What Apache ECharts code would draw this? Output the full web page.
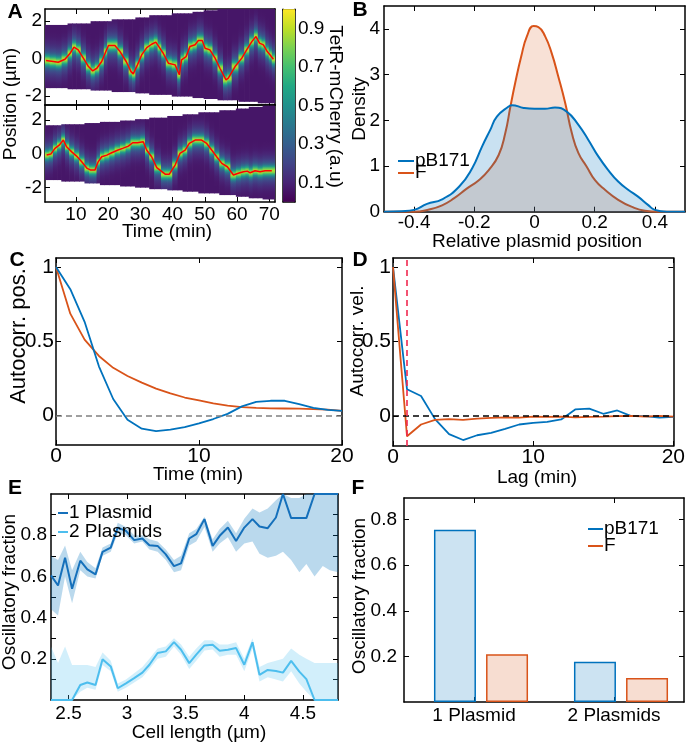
<!DOCTYPE html>
<html><head><meta charset="utf-8">
<script src="https://cdn.jsdelivr.net/npm/echarts@6/dist/echarts.min.js"></script>
<style>html,body{margin:0;padding:0;background:#fff}#c{width:688px;height:744px}</style>
</head><body><div id="c"></div>
<script>
// ---------------- DATA ----------------
// Panel A: kymograph traces (time in min, position in µm)
const kymoTopTime = [0.7,3.0,4.5,6.6,8.2,9.4,10.7,12.3,13.9,15.2,16.5,18.0,19.3,20.1,22.1,23.7,25.6,27.1,27.8,29.1,30.4,32.0,33.5,34.8,35.9,37.1,38.7,40.8,42.1,42.8,44.2,45.4,47.0,48.0,49.2,50.1,51.6,53.2,54.7,56.6,57.3,59.4,61.5,63.0,64.6,65.9,67.0,68.2,69.4,70.3,71.3];
const kymoTopPos  = [-0.10,-0.15,-0.19,-0.03,0.29,0.62,0.47,0.03,-0.42,-0.65,-0.51,-0.15,0.38,0.70,0.70,0.38,-0.15,-0.69,-0.81,-0.33,0.20,0.59,0.77,0.88,0.60,0.29,-0.24,-0.33,-0.86,-0.06,0.11,0.65,0.74,0.97,0.97,0.56,0.47,0.03,-0.51,-1.13,-1.04,-0.42,0.03,0.47,0.91,1.18,0.83,0.74,0.38,0.20,-0.03];
const kymoBotTime = [0.9,2.2,3.5,4.8,6.1,7.1,8.7,10.2,11.8,13.5,14.6,15.9,16.9,18.0,19.6,21.1,22.9,24.5,26.3,27.6,29.1,30.9,32.0,33.5,35.1,37.7,39.0,40.8,42.3,43.9,45.2,47.0,49.0,50.6,52.2,53.7,55.3,57.0,58.9,60.4,62.0,63.2,64.1,65.6,67.2,68.7,70.8];
const kymoBotPos  = [-0.07,-0.01,0.33,0.52,0.82,0.42,0.12,-0.13,-0.47,-0.86,-0.96,-0.96,-0.47,-0.17,-0.07,0.07,0.22,0.33,0.46,0.66,0.66,0.72,0.22,-0.17,-0.81,-1.20,-1.20,-0.66,0.03,0.22,0.62,0.82,0.82,0.62,0.22,-0.17,-0.56,-0.76,-1.25,-1.15,-1.06,-1.02,-1.12,-1.00,-1.06,-1.00,-1.00];
// cell outline (step changes) for each kymograph
const topCellT     = [0.4,8,14,22,28,33,40,46,50,54,60,66];
const topCellUpper = [1.80,1.88,2.00,2.10,2.20,2.32,2.42,2.50,2.58,2.70,2.80,2.90];
const topCellLower = [-1.57,-1.63,-1.70,-1.78,-1.85,-1.93,-2.02,-2.10,-2.15,-2.22,-2.30,-2.38];
const botCellT     = [0.4,6,12,17,23,28,33,38,43,48,54,59,64,68];
const botCellUpper = [1.70,1.76,1.83,1.90,1.98,2.06,2.15,2.25,2.35,2.47,2.59,2.69,2.79,2.86];
const botCellLower = [-1.55,-1.64,-1.75,-1.85,-1.93,-2.00,-2.09,-2.16,-2.24,-2.34,-2.44,-2.54,-2.63,-2.70];
const colorbarRange = [0, 1];
const colorbarLabels = [0.1,0.3,0.5,0.7,0.9];

// Panel B: density of relative plasmid position
const bPbX = [-0.50,-0.44,-0.40,-0.357,-0.307,-0.25,-0.207,-0.174,-0.147,-0.125,-0.086,-0.075,-0.036,0,0.035,0.068,0.107,0.146,0.179,0.212,0.245,0.278,0.311,0.344,0.377,0.40,0.44,0.50];
const bPbY = [0,0.01,0.04,0.17,0.27,0.55,0.95,1.43,1.79,2.08,2.30,2.33,2.27,2.25,2.25,2.28,2.19,1.90,1.57,1.21,0.91,0.66,0.48,0.33,0.15,0.04,0,0];
const bFX  = [-0.50,-0.40,-0.35,-0.307,-0.268,-0.224,-0.185,-0.152,-0.119,-0.097,-0.080,-0.064,-0.044,-0.025,-0.003,0.013,0.035,0.057,0.079,0.102,0.124,0.146,0.173,0.201,0.234,0.278,0.322,0.367,0.41,0.50];
const bFY  = [0,0,0.05,0.14,0.29,0.51,0.69,0.91,1.24,1.72,2.30,2.82,3.40,3.84,4.06,4.04,3.84,3.47,2.96,2.38,1.72,1.28,0.99,0.69,0.48,0.26,0.11,0.02,0,0];

// Panel C: position autocorrelation
const cTime = [0,1,2,3,4,5,6,7,8,9,10,11,12,13,14,15,16,17,18,19,20];
const cPb = [1.0,0.85,0.63,0.33,0.11,-0.03,-0.09,-0.107,-0.097,-0.08,-0.055,-0.025,0.01,0.06,0.09,0.098,0.098,0.075,0.05,0.037,0.03];
const cF  = [1.0,0.685,0.51,0.40,0.32,0.265,0.22,0.18,0.148,0.12,0.10,0.08,0.065,0.055,0.05,0.047,0.046,0.045,0.042,0.038,0.03];

// Panel D: velocity autocorrelation
const dLag = [0,1,2,3,4,5,6,7,8,9,10,11,12,13,14,15,16,17,18,19,20];
const dPb = [1.0,0.18,0.135,-0.02,-0.12,-0.16,-0.128,-0.112,-0.085,-0.056,-0.045,-0.038,-0.022,0.045,0.05,0.016,0.038,0.0,0.0,-0.01,-0.005];
const dF  = [1.0,-0.135,-0.056,-0.025,-0.02,-0.025,-0.017,-0.012,-0.008,-0.01,-0.003,-0.005,-0.003,-0.008,-0.005,-0.003,0,0.002,-0.003,0.002,-0.003];
const dMarkLag = 1;

// Panel E: oscillatory fraction vs cell length
const eLen = [2.35,2.41,2.47,2.53,2.60,2.66,2.73,2.79,2.86,2.92,2.99,3.06,3.13,3.19,3.26,3.33,3.40,3.46,3.53,3.59,3.66,3.73,3.79,3.86,3.93,4.00,4.07,4.13,4.20,4.27,4.33,4.40,4.47,4.53,4.60,4.67,4.73,4.80];
const e1 = [0.605,0.556,0.691,0.540,0.676,0.634,0.610,0.719,0.740,0.837,0.821,0.776,0.784,0.751,0.748,0.707,0.650,0.663,0.784,0.805,0.878,0.748,0.797,0.837,0.772,0.837,0.878,0.842,0.834,0.886,1.0,0.883,0.883,0.883,1.0,1.0,1.0,1.0];
const e1Lo = [0.44,0.41,0.60,0.47,0.63,0.60,0.59,0.70,0.72,0.81,0.80,0.76,0.77,0.73,0.72,0.68,0.62,0.63,0.75,0.77,0.84,0.72,0.76,0.79,0.72,0.76,0.77,0.71,0.69,0.70,0.72,0.68,0.62,0.66,0.60,0.65,0.63,0.62];
const e1Hi = [0.70,0.68,0.75,0.63,0.72,0.67,0.64,0.74,0.76,0.86,0.84,0.80,0.80,0.78,0.77,0.73,0.68,0.70,0.81,0.83,0.89,0.78,0.83,0.87,0.81,0.88,0.93,0.91,0.93,0.97,1.0,0.98,0.98,1.0,1.0,1.0,1.0,1.0];
const e2 = [0,0,0,0,0.073,0.085,0.073,0.198,0.163,0.057,0.081,0.106,0.133,0.171,0.228,0.236,0.281,0.244,0.179,0.220,0.265,0.268,0.239,0.244,0.252,0.171,0.280,0.122,0.146,0.141,0.133,0.190,0.138,0.101,0,0,0,0];
const e2Lo = [0,0,0,0,0.04,0.06,0.05,0.17,0.14,0.04,0.06,0.085,0.11,0.15,0.20,0.21,0.26,0.22,0.15,0.19,0.24,0.245,0.21,0.22,0.22,0.14,0.25,0.09,0.11,0.10,0.09,0.14,0.08,0.04,0,0,0,0];
const e2Hi = [0.26,0.18,0.26,0.17,0.17,0.17,0.16,0.23,0.19,0.08,0.10,0.13,0.16,0.20,0.25,0.26,0.30,0.27,0.21,0.25,0.29,0.29,0.27,0.27,0.28,0.20,0.30,0.16,0.18,0.19,0.20,0.25,0.22,0.20,0.18,0.18,0.18,0.18];

// Panel F: bar chart
const fCategories = ['1 Plasmid','2 Plasmids'];
const fPb = [0.756, 0.177];
const fF  = [0.21, 0.105];

// ---------------- STYLE / HELPERS ----------------
const FONT = 'Liberation Sans', FS = 19, AXC = '#000';
const BLUE = '#0072BD', ORANGE = '#D95319', LBLUE = '#4DBEEE';
const VIR = ['#440154','#482475','#414487','#355f8d','#2a788e','#21918c','#22a884','#44bf70','#7ad151','#bddf26','#fde725'];
const VIRrgb = VIR.map(h => [parseInt(h.slice(1,3),16), parseInt(h.slice(3,5),16), parseInt(h.slice(5,7),16)]);
function viridis(v){
  v = Math.max(0, Math.min(1, v)); const f = v*10; const i = Math.min(9, Math.floor(f)); const r = f - i;
  const a = VIRrgb[i], b = VIRrgb[i+1];
  return 'rgb(' + [0,1,2].map(k => Math.round(a[k] + (b[k]-a[k])*r)).join(',') + ')';
}
function intensity(d){ return 0.06 + 0.58*Math.exp(-d*d/(2*0.2*0.2)) + 0.25*Math.exp(-d*d/(2*0.55*0.55)); }

const G = [
  {left:45,  top:9,    width:230, height:96},    // 0 A top
  {left:45,  top:105,  width:230, height:97},    // 1 A bottom
  {left:283, top:9.3,  width:12,  height:192.4}, // 2 colorbar
  {left:384, top:6,    width:301, height:205.7}, // 3 B
  {left:56,  top:258,  width:286, height:187},   // 4 C
  {left:393, top:258,  width:288, height:188},   // 5 D
  {left:51,  top:494,  width:287, height:206},   // 6 E
  {left:404, top:498,  width:280, height:204}    // 7 F
];
const xAxes = [], yAxes = [];
function axis(kind, gi, pos, min, max, ticks, labels, fmt, margin, fs){
  const a = {type:'value', gridIndex:gi, position:pos, min:min, max:max,
    axisLine:{show:true, onZero:false, lineStyle:{color:AXC, width:1.5}},
    axisTick: (ticks && ticks.length) ? {show:true, inside:true, length:5, customValues:ticks, lineStyle:{color:AXC, width:1}} : {show:false},
    axisLabel: (labels && labels.length) ? {show:true, customValues:labels, formatter: fmt || (v => String(v)), margin: margin, color:'#000', fontSize:fs || FS, fontFamily:FONT} : {show:false},
    splitLine:{show:false}, axisPointer:{show:false}};
  (kind === 'x' ? xAxes : yAxes).push(a);
}
function box(gi, xr, yr){
  axis('x', gi, 'bottom', xr.min, xr.max, xr.ticks, xr.labels, xr.fmt, xr.margin, xr.fs);
  axis('x', gi, 'top',    xr.min, xr.max, xr.ticks, null);
  axis('y', gi, 'left',   yr.min, yr.max, yr.ticks, yr.labels, yr.fmt, yr.margin, yr.fs);
  axis('y', gi, 'right',  yr.min, yr.max, yr.ticks, null);
}
const AX = {min:0.4, max:71.8, ticks:[10,20,30,40,50,60,70]};
box(0, {min:AX.min, max:AX.max, ticks:AX.ticks, labels:null}, {min:-2.47, max:2.65, ticks:[-2,-1,0,1,2], labels:[-2,0,2], margin:3});
box(1, {min:AX.min, max:AX.max, ticks:AX.ticks, labels:AX.ticks, margin:3}, {min:-2.85, max:2.9, ticks:[-2,-1,0,1,2], labels:[-2,0,2], margin:3});
// colorbar axes
axis('x', 2, 'bottom', 0, 1, null, null);
axis('x', 2, 'top', 0, 1, null, null);
axis('y', 2, 'left', colorbarRange[0], colorbarRange[1], null, null);
axis('y', 2, 'right', colorbarRange[0], colorbarRange[1], [0.1,0.2,0.3,0.4,0.5,0.6,0.7,0.8,0.9], colorbarLabels, v => v.toFixed(1), 3);
box(3, {min:-0.5, max:0.5, ticks:[-0.4,-0.2,0,0.2,0.4], labels:[-0.4,-0.2,0,0.2,0.4], margin:2}, {min:0, max:4.5, ticks:[0,1,2,3,4], labels:[0,1,2,3,4], margin:4});
box(4, {min:0, max:20, ticks:[0,10,20], labels:[0,10,20], margin:1, fs:21}, {min:-0.2, max:1.06, ticks:[0,0.5,1], labels:[0,0.5,1], margin:2, fs:21});
box(5, {min:0, max:20, ticks:[0,10,20], labels:[0,10,20], margin:1, fs:21}, {min:-0.2, max:1.06, ticks:[0,0.5,1], labels:[0,0.5,1], margin:2, fs:21});
box(6, {min:2.35, max:4.8, ticks:[2.5,3,3.5,4,4.5], labels:[2.5,3,3.5,4,4.5], margin:4}, {min:0, max:1, ticks:[0.1,0.2,0.3,0.4,0.5,0.6,0.7,0.8,0.9], labels:[0.2,0.4,0.6,0.8], margin:4});
box(7, {min:0.5, max:2.5, ticks:[1,2], labels:[1,2], fmt: v => fCategories[Math.round(v)-1], margin:4}, {min:0, max:0.895, ticks:[0.2,0.4,0.6,0.8], labels:[0.2,0.4,0.6,0.8], margin:7});

// kymograph columns
function columns(times, pos, stepT, up, lo, xmin, xmax){
  const out = [];
  for (let i = 0; i < times.length; i++){
    const a = i === 0 ? xmin : (times[i-1] + times[i]) / 2;
    const b = i === times.length - 1 ? xmax : (times[i] + times[i+1]) / 2;
    const c = (a + b) / 2; let k = 0;
    while (k + 1 < stepT.length && stepT[k+1] <= c) k++;
    out.push([a, b, up[k], lo[k], pos[i]]);
  }
  return out;
}
function kymoRender(ylo, yhi, xmax){
  return function(params, api){
    const t0 = api.value(0), t1 = api.value(1);
    const up = Math.min(api.value(2), yhi), lo = Math.max(api.value(3), ylo), tr = api.value(4);
    const p0 = api.coord([t0, up]), p1 = api.coord([t1, lo]);
    const N = 48, stops = [];
    for (let k = 0; k <= N; k++){
      const y = up - (up - lo) * k / N;
      stops.push({offset: k / N, color: viridis(intensity(y - tr))});
    }
    const extra = t1 >= xmax ? 0 : 0.7;
    return {type:'rect', shape:{x:p0[0], y:p0[1], width:p1[0]-p0[0]+extra, height:p1[1]-p0[1]},
      style:{fill: new echarts.graphic.LinearGradient(0,0,0,1,stops)}};
  };
}
function bandRender(xs, lo, hi, color){
  return function(params, api){
    const pts = [];
    for (let i = 0; i < xs.length; i++) pts.push(api.coord([xs[i], hi[i]]));
    for (let i = xs.length - 1; i >= 0; i--) pts.push(api.coord([xs[i], lo[i]]));
    return {type:'polygon', shape:{points:pts}, style:{fill:color}};
  };
}
function pairs(xs, ys){ return xs.map((x,i) => [x, ys[i]]); }

const series = [];
// A top
series.push({type:'custom', xAxisIndex:0, yAxisIndex:0, renderItem:kymoRender(-2.47, 2.65, AX.max), silent:true,
  data: columns(kymoTopTime, kymoTopPos, topCellT, topCellUpper, topCellLower, AX.min, AX.max), z:1});
series.push({type:'line', xAxisIndex:0, yAxisIndex:0, data:pairs(kymoTopTime, kymoTopPos), showSymbol:false, silent:true,
  lineStyle:{color:'#ff0000', width:1.5}, z:3});
// A bottom
series.push({type:'custom', xAxisIndex:2, yAxisIndex:2, renderItem:kymoRender(-2.85, 2.9, AX.max), silent:true,
  data: columns(kymoBotTime, kymoBotPos, botCellT, botCellUpper, botCellLower, AX.min, AX.max), z:1});
series.push({type:'line', xAxisIndex:2, yAxisIndex:2, data:pairs(kymoBotTime, kymoBotPos), showSymbol:false, silent:true,
  lineStyle:{color:'#ff0000', width:1.5}, z:3});
// colorbar
series.push({type:'custom', xAxisIndex:4, yAxisIndex:4, silent:true, data:[colorbarRange],
  renderItem:function(params, api){
    const lo = api.value(0), hi = api.value(1);
    const p0 = api.coord([0, hi]), p1 = api.coord([1, lo]);
    const stops = VIR.map((c,i) => ({offset:1 - i/10, color:c})).reverse();
    return {type:'rect', shape:{x:p0[0], y:p0[1], width:p1[0]-p0[0], height:p1[1]-p0[1]},
      style:{fill:new echarts.graphic.LinearGradient(0,0,0,1,stops)}};
  }, z:1});
// B
series.push({type:'line', xAxisIndex:6, yAxisIndex:6, data:pairs(bFX, bFY), smooth:0.5, showSymbol:false, silent:true,
  lineStyle:{color:ORANGE, width:2}, areaStyle:{color:'rgba(217,83,25,0.25)', origin:'start'}, z:2});
series.push({type:'line', xAxisIndex:6, yAxisIndex:6, data:pairs(bPbX, bPbY), smooth:0.5, showSymbol:false, silent:true,
  lineStyle:{color:BLUE, width:2}, areaStyle:{color:'rgba(0,114,189,0.3)', origin:'start'}, z:3});
// C
series.push({type:'line', xAxisIndex:8, yAxisIndex:8, data:pairs(cTime, cF), showSymbol:false, silent:true,
  lineStyle:{color:ORANGE, width:1.8}, z:3,
  markLine:{silent:true, symbol:'none', label:{show:false}, lineStyle:{color:'#808080', type:[6,4], width:1.5}, data:[{yAxis:0}]}});
series.push({type:'line', xAxisIndex:8, yAxisIndex:8, data:pairs(cTime, cPb), showSymbol:false, silent:true,
  lineStyle:{color:BLUE, width:1.8}, z:3});
// D
series.push({type:'line', xAxisIndex:10, yAxisIndex:10, data:pairs(dLag, dPb), showSymbol:false, silent:true,
  lineStyle:{color:BLUE, width:1.8}, z:3,
  markLine:{silent:true, symbol:'none', label:{show:false}, lineStyle:{color:'#000', type:[6,4], width:1.5}, data:[{yAxis:0}]}});
series.push({type:'line', xAxisIndex:10, yAxisIndex:10, data:pairs(dLag, dF), showSymbol:false, silent:true,
  lineStyle:{color:ORANGE, width:1.8}, z:3,
  markLine:{silent:true, symbol:'none', label:{show:false}, lineStyle:{color:'#f0284f', type:[6,4], width:1.6}, data:[{xAxis:dMarkLag}]}});
// E bands (confidence regions) and lines
series.push({type:'custom', xAxisIndex:12, yAxisIndex:12, silent:true, data:[[eLen[0], e1Lo[0]]], clip:true,
  renderItem:bandRender(eLen, e1Lo, e1Hi, 'rgba(0,114,189,0.27)'), z:1});
series.push({type:'custom', xAxisIndex:12, yAxisIndex:12, silent:true, data:[[eLen[0], e2Lo[0]]], clip:true,
  renderItem:bandRender(eLen, e2Lo, e2Hi, 'rgba(77,190,238,0.25)'), z:1});
series.push({type:'line', xAxisIndex:12, yAxisIndex:12, data:pairs(eLen, e1), showSymbol:false, silent:true, lineStyle:{color:'#1570bb', width:2}, z:3});
series.push({type:'line', xAxisIndex:12, yAxisIndex:12, data:pairs(eLen, e2), showSymbol:false, silent:true, lineStyle:{color:LBLUE, width:2}, z:3});
// F bars (one series; bars placed beside each category tick)
const fData = [];
fCategories.forEach((c, i) => {
  fData.push({value:[i + 1 + 0.05 - 0.186, fPb[i]], itemStyle:{color:'rgba(0,114,189,0.2)', borderColor:BLUE, borderWidth:1.5}});
  fData.push({value:[i + 1 + 0.05 + 0.186, fF[i]], itemStyle:{color:'rgba(217,83,25,0.2)', borderColor:ORANGE, borderWidth:1.5}});
});
series.push({type:'bar', xAxisIndex:14, yAxisIndex:14, data:fData, barWidth:42, silent:true, z:2});

// ---------------- TEXT / LEGENDS ----------------
function txt(x, y, s, opt){
  opt = opt || {};
  return {type:'text', x:x, y:y, rotation:opt.rot || 0, silent:true, z:10,
    style:{text:s, fill:'#000', fontSize:opt.fs || FS, fontFamily:FONT, fontWeight:opt.bold ? 'bold' : 'normal',
      align:opt.align || 'center', verticalAlign:'middle'}};
}
function leg(x1, x2, y, color, label){
  return [{type:'line', silent:true, z:10, shape:{x1:x1, y1:y, x2:x2, y2:y}, style:{stroke:color, lineWidth:2}},
          txt(x2 + 1, y, label, {align:'left'})];
}
const R = Math.PI/2;
const graphics = [
  txt(15, 12, 'A', {bold:true, fs:21}), txt(360, 10, 'B', {bold:true, fs:21}),
  txt(17, 260, 'C', {bold:true, fs:21}), txt(360, 260, 'D', {bold:true, fs:21}),
  txt(15, 488, 'E', {bold:true, fs:21}), txt(358, 488, 'F', {bold:true, fs:21}),
  txt(11, 104, 'Position (µm)', {rot:R}),
  txt(167, 232, 'Time (min)'),
  txt(335.5, 106.5, 'TetR-mCherry (a.u)', {rot:-R}),
  txt(360, 109, 'Density', {rot:R}),
  txt(537, 242, 'Relative plasmid position'),
  txt(19, 336, 'Autocorr. pos.', {rot:R, fs:22}),
  txt(198, 475, 'Time (min)'),
  txt(358, 341, 'Autocorr. vel.', {rot:R}),
  txt(537, 478, 'Lag (min)'),
  txt(10, 592, 'Oscillatory fraction', {rot:R}),
  txt(199, 733, 'Cell length (µm)'),
  txt(360, 596, 'Oscillatory fraction', {rot:R})
].concat(
  leg(398, 414, 161, BLUE, 'pB171'), leg(398, 414, 173, ORANGE, 'F'),
  leg(58, 68, 513, '#1570bb', '1 Plasmid'), leg(58, 68, 532, LBLUE, '2 Plasmids'),
  leg(588, 603, 529, BLUE, 'pB171'), leg(588, 603, 546, ORANGE, 'F')
);

const chart = echarts.init(document.getElementById('c'), null, {renderer:'canvas', width:688, height:744});
chart.setOption({
  animation:false,
  backgroundColor:'#fff',
  textStyle:{fontFamily:FONT},
  grid: G.map(g => Object.assign({containLabel:false}, g)),
  xAxis: xAxes, yAxis: yAxes,
  series: series,
  graphic: graphics
});
</script></body></html>
